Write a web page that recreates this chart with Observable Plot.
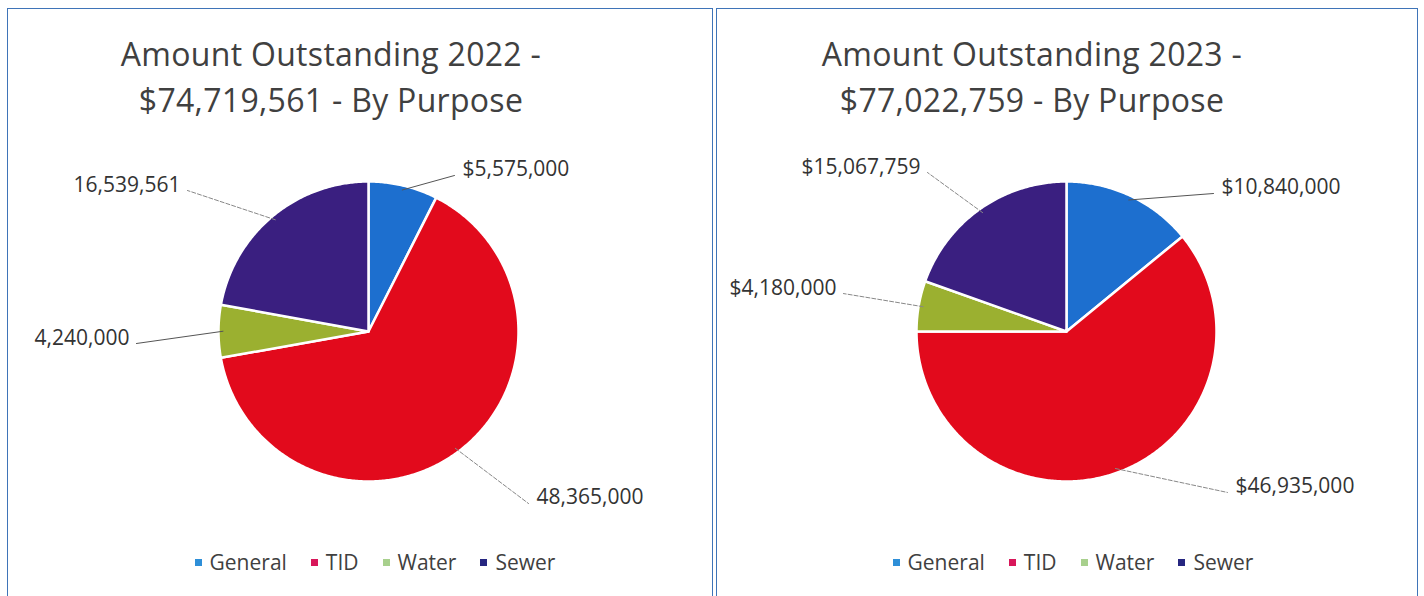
<!DOCTYPE html>
<html>
<head>
<meta charset="utf-8">
<script src="https://cdn.jsdelivr.net/npm/d3@7"></script>
<script src="https://cdn.jsdelivr.net/npm/@observablehq/plot@0.6"></script>
<style>
  html, body { margin: 0; padding: 0; background: #fff; }
  body { width: 1424px; height: 596px; position: relative; overflow: hidden; font-family: "Open Sans", sans-serif; }
  .panel { position: absolute; top: 8px; height: 600px; border: 1.5px solid #3f74b8; box-sizing: border-box; background: #fff; }
  .title { position: absolute; top: 22px; left: 0; text-align: center; font-size: 32px; line-height: 46px; color: #404040; letter-spacing: 0.3px; }
  .chart { position: absolute; top: 132px; left: 0; }
  .legend { position: absolute; top: 539px; left: 0; display: flex; justify-content: center; gap: 24px; font-size: 21px; color: #404040; }
  .legend span.sw { display: inline-block; width: 7px; height: 7px; margin-right: 8px; vertical-align: middle; position: relative; top: -2px; }
</style>
</head>
<body>
<div id="root"></div>
<script>
// ---- data ----
const categories = ["General", "TID", "Water", "Sewer"];
const titles2022 = ["Amount Outstanding 2022 -", "$74,719,561 - By Purpose"];
const titles2023 = ["Amount Outstanding 2023 -", "$77,022,759 - By Purpose"];
const values2022 = [5575000, 48365000, 4240000, 16539561];
const values2023 = [10840000, 46935000, 4180000, 15067759];
const labels2022 = ["$5,575,000", "48,365,000", "4,240,000", "16,539,561"];
const labels2023 = ["$10,840,000", "$46,935,000", "$4,180,000", "$15,067,759"];

// ---- styling / layout ----
const sliceColors = ["#1d6fcf", "#e20a1c", "#9bb030", "#3a1f80"];
const legendColors = ["#2e8fd8", "#d8175a", "#a8d08d", "#262680"];
// leader-line end points (in radius units, relative to pie centre) and line style
const leaderEnds2022 = [[0.573, 1.04], [1.067, -1.147], [-1.547, -0.08], [-1.207, 0.94]];
const leaderEnds2023 = [[0.98, 0.92], [1.073, -1.073], [-1.487, 0.253], [-0.927, 1.06]];
const leaderDashed2022 = [false, true, false, true];
const leaderDashed2023 = [false, true, true, true];

const panels = [
  {left: 7, width: 706, titles: titles2022, values: values2022, labels: labels2022, ends: leaderEnds2022, dashed: leaderDashed2022, cx: 360, titleShift: -30},
  {left: 716, width: 702, titles: titles2023, values: values2023, labels: labels2023, ends: leaderEnds2023, dashed: leaderDashed2023, cx: 349, titleShift: -36}
];

const R = 150;
const svgH = 400;
const cy = 190; // pie centre inside svg

function slices(values) {
  const pie = d3.pie().sort(null).value(d => d)(values);
  const pts = [];
  pie.forEach((p, i) => {
    const cat = categories[i];
    pts.push({cat, x: 0, y: 0});
    const n = Math.max(4, Math.ceil((p.endAngle - p.startAngle) / 0.01));
    for (let k = 0; k <= n; k++) {
      const a = p.startAngle + (p.endAngle - p.startAngle) * k / n;
      pts.push({cat, x: Math.sin(a), y: Math.cos(a)});
    }
  });
  return {pie, pts};
}

const root = document.getElementById("root");
panels.forEach(pn => {
  const div = document.createElement("div");
  div.className = "panel";
  div.style.left = pn.left + "px";
  div.style.width = pn.width + "px";
  root.appendChild(div);

  const t = document.createElement("div");
  t.className = "title";
  t.style.width = (pn.width + 2 * pn.titleShift) + "px";
  t.innerHTML = pn.titles.map(s => `<div>${s}</div>`).join("");
  div.appendChild(t);

  const {pie, pts} = slices(pn.values);
  const leaders = [];
  const labelRows = [];
  pie.forEach((p, i) => {
    const m = (p.startAngle + p.endAngle) / 2;
    const [ex, ey] = pn.ends[i];
    const dashed = pn.dashed[i];
    leaders.push({i, dashed, x: Math.sin(m) * 0.97, y: Math.cos(m) * 0.97});
    leaders.push({i, dashed, x: ex, y: ey});
    labelRows.push({x: ex, y: ey, text: pn.labels[i], side: ex >= 0 ? "start" : "end"});
  });

  const chart = Plot.plot({
    width: pn.width - 3,
    height: svgH,
    margin: 0,
    x: {domain: [-1, 1], range: [pn.cx - R, pn.cx + R], axis: null},
    y: {domain: [-1, 1], range: [cy + R, cy - R], axis: null},
    color: {domain: categories, range: sliceColors},
    style: {fontFamily: "Open Sans, sans-serif", overflow: "visible"},
    marks: [
      Plot.line(pts, {x: "x", y: "y", z: "cat", fill: "cat", stroke: "#ffffff", strokeWidth: 2.5, curve: "linear-closed", strokeLinejoin: "round"}),
      Plot.line(leaders.filter(d => !d.dashed), {x: "x", y: "y", z: "i", stroke: "#555", strokeWidth: 1}),
      Plot.line(leaders.filter(d => d.dashed), {x: "x", y: "y", z: "i", stroke: "#888", strokeWidth: 1, strokeDasharray: "4,2"}),
      Plot.text(labelRows.filter(d => d.side === "start"), {x: "x", y: "y", text: "text", textAnchor: "start", dx: 8, dy: -6, fontSize: 21, fill: "#333"}),
      Plot.text(labelRows.filter(d => d.side === "end"), {x: "x", y: "y", text: "text", textAnchor: "end", dx: -7, dy: -5, fontSize: 21, fill: "#333"})
    ]
  });
  chart.classList.add("chart");
  div.appendChild(chart);

  const lg = document.createElement("div");
  lg.className = "legend";
  lg.style.width = (pn.width + 2 * (pn.cx + 7 - pn.width / 2)) + "px";
  lg.innerHTML = categories.map((c, i) => `<div><span class="sw" style="background:${legendColors[i]}"></span>${c}</div>`).join("");
  div.appendChild(lg);
});
</script>
</body>
</html>
